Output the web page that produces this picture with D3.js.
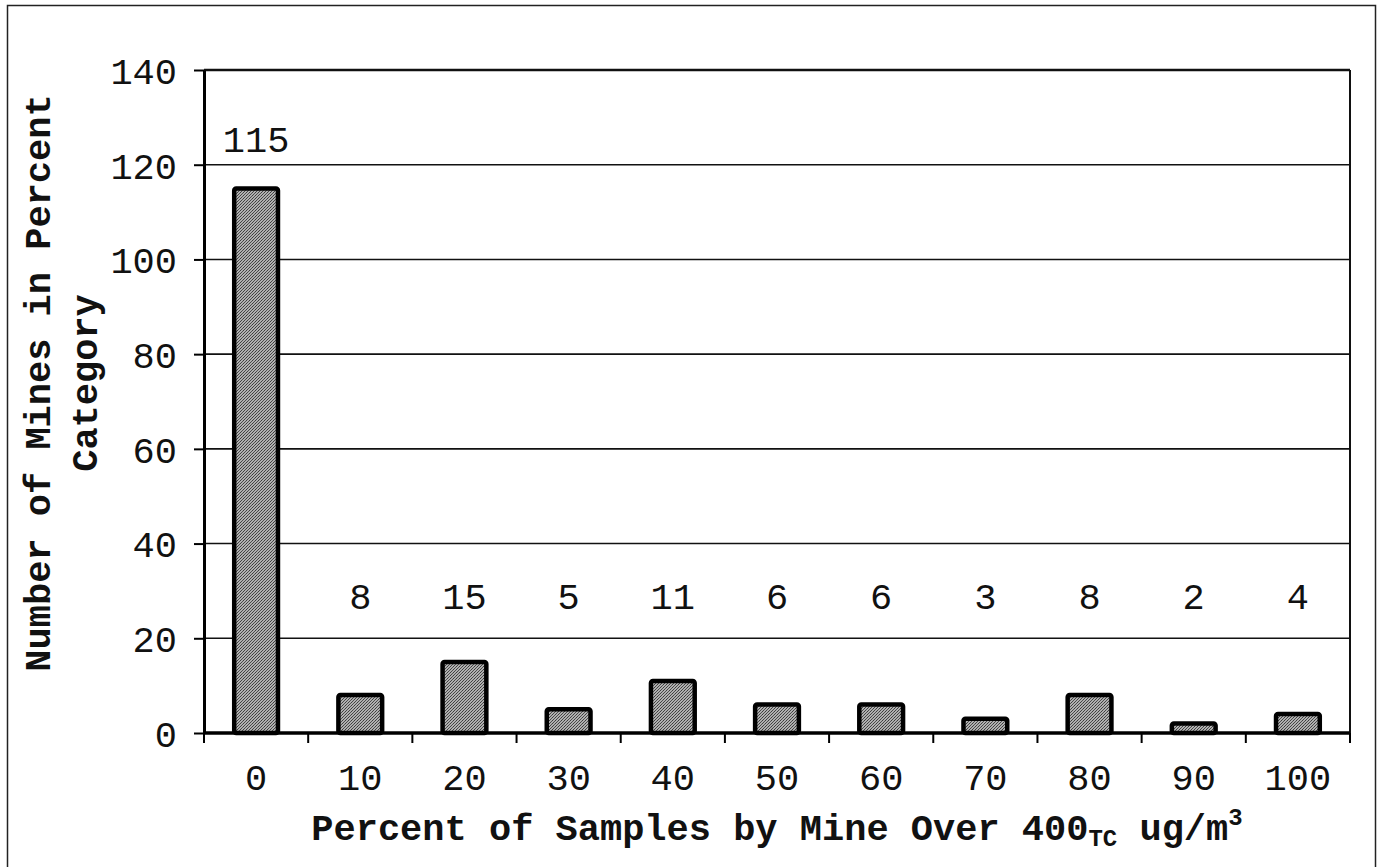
<!DOCTYPE html>
<html>
<head>
<meta charset="utf-8">
<script src="https://cdn.jsdelivr.net/npm/d3@7/dist/d3.min.js"></script>
<style>
	body { margin: 0; background: #fff; }
	svg { display: block; }
	text { font-family: "Liberation Mono", "Courier New", monospace; fill: #111; }
</style>
</head>
<body>
<div id="chart"></div>
<script>
// percent category of samples over 400 TC ug/m3, and number of mines in each
var categories = ['0', '10', '20', '30', '40', '50', '60', '70', '80', '90', '100'];
var counts = [115, 8, 15, 5, 11, 6, 6, 3, 8, 2, 4];
var yTicks = [0, 20, 40, 60, 80, 100, 120, 140];

var width = 1382, height = 867;
var plotLeft = 204, plotRight = 1350, plotTop = 70, plotBottom = 733;

var svg = d3.select('#chart').append('svg')
	.attr('width', width)
	.attr('height', height);

// stipple fill like the scanned bars
var pat = svg.append('defs').append('pattern')
	.attr('id', 'stipple')
	.attr('width', 3)
	.attr('height', 3)
	.attr('patternUnits', 'userSpaceOnUse');
pat.append('rect').attr('width', 3).attr('height', 3).attr('fill', '#b0b0b0');
pat.append('rect').attr('x', 0).attr('y', 0).attr('width', 1).attr('height', 1).attr('fill', '#3c3c3c');
pat.append('rect').attr('x', 2).attr('y', 1).attr('width', 1).attr('height', 1).attr('fill', '#505050');
pat.append('rect').attr('x', 1).attr('y', 2).attr('width', 1).attr('height', 1).attr('fill', '#464646');

// outer box
svg.append('rect')
	.attr('x', 7.5)
	.attr('y', 5.5)
	.attr('width', 1368)
	.attr('height', 880)
	.attr('fill', 'none')
	.attr('stroke', '#222')
	.attr('stroke-width', 1.5);

var x = d3.scaleBand()
	.domain(categories)
	.range([plotLeft, plotRight])
	.paddingInner(0.58)
	.paddingOuter(0.29);

var y = d3.scaleLinear()
	.domain([0, 140])
	.range([plotBottom, plotTop]);

// gridlines
svg.append('g').selectAll('line')
	.data(yTicks.filter(function(d) { return d > 0 && d < 140; }))
	.enter().append('line')
		.attr('x1', plotLeft)
		.attr('x2', plotRight)
		.attr('y1', function(d) { return y(d); })
		.attr('y2', function(d) { return y(d); })
		.attr('stroke', '#111')
		.attr('stroke-width', 1.6);

// top and right frame
svg.append('line')
	.attr('x1', plotLeft).attr('x2', plotRight)
	.attr('y1', y(140)).attr('y2', y(140))
	.attr('stroke', '#111').attr('stroke-width', 2.5);
svg.append('line')
	.attr('x1', plotRight).attr('x2', plotRight)
	.attr('y1', y(140)).attr('y2', plotBottom)
	.attr('stroke', '#111').attr('stroke-width', 2);

// bars
svg.append('g').selectAll('rect')
	.data(counts)
	.enter().append('rect')
		.attr('x', function(d, i) { return x(categories[i]); })
		.attr('y', function(d) { return y(d); })
		.attr('width', x.bandwidth())
		.attr('height', function(d) { return y(0) - y(d); })
		.attr('rx', 2)
		.attr('fill', 'url(#stipple)')
		.attr('stroke', '#000')
		.attr('stroke-width', 4.5);

// value labels
svg.append('g').selectAll('text')
	.data(counts)
	.enter().append('text')
		.attr('x', function(d, i) { return x(categories[i]) + x.bandwidth() / 2; })
		.attr('y', function(d) {
			return d >= 20 ? y(d) - 36 : y(20) - 29;
		})
		.attr('text-anchor', 'middle')
		.style('font-size', '37px')
		.text(function(d) { return d; });

// y axis
var yAxis = svg.append('g')
	.attr('transform', 'translate(' + plotLeft + ',0)')
	.call(d3.axisLeft(y).tickValues(yTicks).tickSize(10).tickSizeOuter(0).tickPadding(17));
yAxis.select('.domain').attr('stroke', '#000').attr('stroke-width', 3);
yAxis.selectAll('.tick line').attr('stroke', '#000').attr('stroke-width', 2);
yAxis.selectAll('.tick text')
	.attr('font-family', null)
	.style('font-size', '37px')
	.attr('dy', '0.36em');

// x axis: labels centred under bars, ticks on the category boundaries
var xAxis = svg.append('g')
	.attr('transform', 'translate(0,' + plotBottom + ')')
	.call(d3.axisBottom(x).tickSize(0).tickPadding(31));
xAxis.select('.domain').remove();
xAxis.selectAll('.tick text')
	.attr('font-family', null)
	.style('font-size', '37px');

var edges = d3.range(categories.length + 1).map(function(i) {
	return x.range()[0] + i * x.step();
});
svg.append('g').selectAll('line')
	.data(edges)
	.enter().append('line')
		.attr('x1', function(d) { return d; })
		.attr('x2', function(d) { return d; })
		.attr('y1', plotBottom)
		.attr('y2', plotBottom + 10)
		.attr('stroke', '#000')
		.attr('stroke-width', 2);

svg.append('line')
	.attr('x1', plotLeft).attr('x2', plotRight)
	.attr('y1', plotBottom).attr('y2', plotBottom)
	.attr('stroke', '#000').attr('stroke-width', 3.5);

// x title
var xt = svg.append('text')
	.attr('x', (plotLeft + plotRight) / 2)
	.attr('y', 840)
	.attr('text-anchor', 'middle')
	.style('font-size', '37px')
	.style('font-weight', 'bold');
xt.append('tspan').text('Percent of Samples by Mine Over 400');
xt.append('tspan').attr('dy', 6).style('font-size', '24px').text('TC');
xt.append('tspan').attr('dy', -6).text(' ug/m');
xt.append('tspan').attr('dy', -15).style('font-size', '24px').text('3');

// y title, two lines
var yt = svg.append('text')
	.attr('transform', 'translate(50,383) rotate(-90)')
	.attr('text-anchor', 'middle')
	.style('font-size', '37px')
	.style('font-weight', 'bold');
yt.append('tspan').attr('x', 0).attr('y', 0).text('Number of Mines in Percent');
yt.append('tspan').attr('x', 0).attr('y', 47).text('Category');
</script>
</body>
</html>
